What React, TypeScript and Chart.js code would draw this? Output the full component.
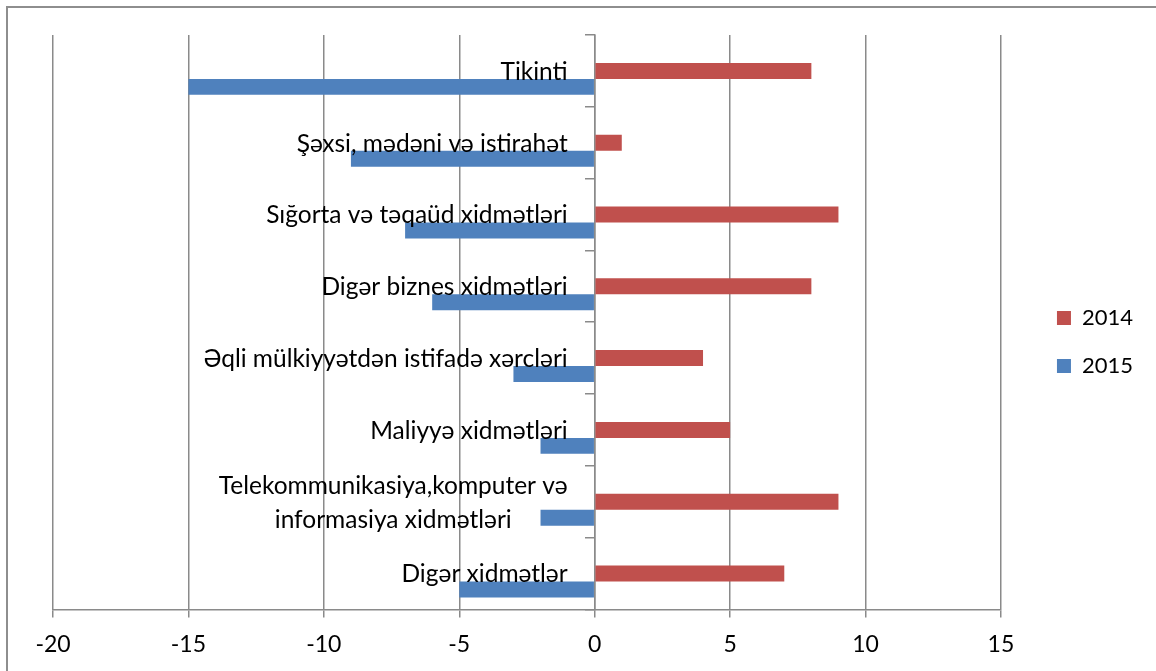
import React, { useEffect, useRef } from "react";
import { Chart, registerables } from "chart.js";

Chart.register(...registerables);

const categories: (string | string[])[] = [
  "Tikinti",
  "Şəxsi, mədəni və istirahət",
  "Sığorta və təqaüd xidmətləri",
  "Digər biznes xidmətləri",
  "Əqli mülkiyyətdən istifadə xərcləri",
  "Maliyyə xidmətləri",
  ["Telekommunikasiya,komputer və", "informasiya xidmətləri"],
  "Digər xidmətlər",
];

const values2014 = [8, 1, 9, 8, 4, 5, 9, 7];
const values2015 = [-15, -9, -7, -6, -3, -2, -2, -5];
const spacer = [null, null, null, null, null, null, null, null];

const seriesNames = ["2014", "2015"];
const xMin = -20;
const xMax = 15;
const xStep = 5;

const FONT = "Lato";
const LABEL_SIZE = 24.5;
const TICK_SIZE = 23;
const LEGEND_SIZE = 22;
const GRID = "#8a8a8a";

const categoryLabelPlugin = {
  id: "catLabels",
  afterDatasetsDraw(chart: any) {
    const { ctx, scales } = chart;
    const x = scales.x;
    const y = scales.y;
    const right = x.getPixelForValue(0) - 27;
    ctx.save();
    ctx.font = `${LABEL_SIZE}px ${FONT}`;
    ctx.fillStyle = "#000";
    ctx.textBaseline = "middle";
    ctx.textAlign = "center";
    categories.forEach((c, i) => {
      const lines = Array.isArray(c) ? c : [c];
      const widths = lines.map((l) => ctx.measureText(l).width);
      const maxW = Math.max(...widths);
      const cx = right - maxW / 2;
      const cy = y.getPixelForValue(i) + 1;
      const lh = 34;
      lines.forEach((l, j) => {
        ctx.fillText(l, cx, cy + (j - (lines.length - 1) / 2) * lh);
      });
    });
    ctx.restore();
  },
};

export default function App() {
  const ref = useRef<HTMLCanvasElement | null>(null);

  useEffect(() => {
    if (!ref.current) return;
    const chart = new Chart(ref.current, {
      type: "bar",
      data: {
        labels: categories.map((c) => (Array.isArray(c) ? c.join(" ") : c)),
        datasets: [
          {
            label: "spacer",
            data: spacer as any,
            backgroundColor: "rgba(0,0,0,0)",
          },
          {
            label: seriesNames[0],
            data: values2014,
            backgroundColor: "#C0504D",
          },
          {
            label: seriesNames[1],
            data: values2015,
            backgroundColor: "#4F81BD",
          },
        ],
      },
      options: {
        indexAxis: "y",
        animation: false,
        responsive: false,
        maintainAspectRatio: false,
        datasets: {
          bar: {
            categoryPercentage: 48 / 72,
            barPercentage: 1,
          },
        },
        layout: {
          padding: { left: 53, top: 35, right: 13, bottom: 0 },
        },
        scales: {
          x: {
            type: "linear",
            min: xMin,
            max: xMax,
            ticks: {
              stepSize: xStep,
              color: "#000",
              font: { family: FONT, size: TICK_SIZE },
              padding: 13,
            },
            grid: {
              color: GRID,
              lineWidth: 1.5,
              tickLength: 8,
              drawTicks: true,
            },
            border: { color: GRID, width: 1.5 },
          },
          y: {
            type: "category",
            position: { x: 0 } as any,
            ticks: { display: false },
            grid: {
              color: GRID,
              lineWidth: 1.5,
              drawOnChartArea: false,
              drawTicks: true,
              tickLength: 9,
              offset: true,
            },
            border: { color: GRID, width: 1.5 },
          },
          gap: {
            type: "linear",
            position: "right",
            display: true,
            ticks: { display: false },
            grid: { display: false },
            border: { display: false },
            afterFit: (s: any) => {
              s.width = 30;
            },
          } as any,
        },
        plugins: {
          legend: {
            position: "right",
            align: "start",
            title: {
              display: true,
              text: "",
              font: { size: 10, lineHeight: 1 },
              padding: { top: 236, bottom: 0 },
            },
            labels: {
              filter: (item: any) => item.text !== "spacer",
              boxWidth: 14,
              boxHeight: 14,
              padding: 26,
              color: "#000",
              font: { family: FONT, size: LEGEND_SIZE },
            },
          },
          tooltip: { enabled: false },
        },
      },
      plugins: [categoryLabelPlugin],
    });
    return () => chart.destroy();
  }, []);

  return (
    <div
      style={{
        position: "absolute",
        left: 0,
        top: 0,
        width: 1156,
        height: 671,
        background: "#fff",
        overflow: "hidden",
      }}
    >
      <div
        style={{
          position: "absolute",
          left: 6,
          top: 6,
          width: 1200,
          height: 700,
          borderLeft: "2px solid #8e8e8e",
          borderTop: "2px solid #8e8e8e",
        }}
      />
      <canvas
        ref={ref}
        width={1156}
        height={671}
        style={{ position: "absolute", left: 0, top: 0 }}
      />
    </div>
  );
}
